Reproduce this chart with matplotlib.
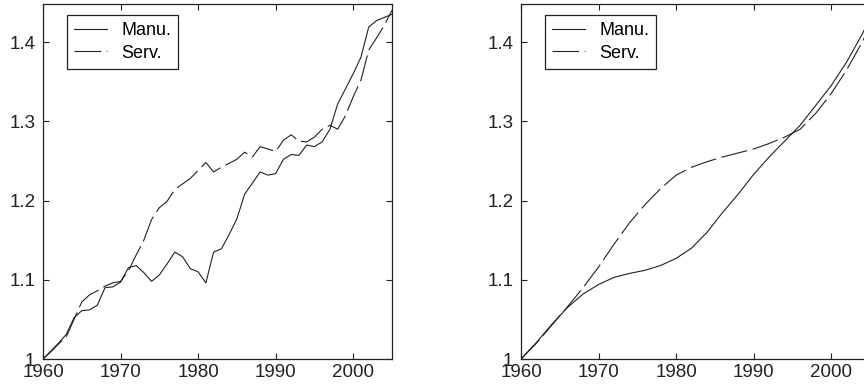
import numpy as np
import matplotlib
matplotlib.use("Agg")
import matplotlib.pyplot as plt
from matplotlib.ticker import FormatStrFormatter

# ---- data ----
years = np.arange(1960, 2006)

manu_raw = [1.000, 1.010, 1.020, 1.031, 1.052, 1.061, 1.062, 1.068, 1.090, 1.091,
            1.097, 1.115, 1.118, 1.109, 1.098, 1.106, 1.120, 1.135, 1.129, 1.114,
            1.110, 1.096, 1.135, 1.139, 1.157, 1.177, 1.208, 1.222, 1.236, 1.232,
            1.234, 1.252, 1.258, 1.257, 1.270, 1.268, 1.274, 1.290, 1.322, 1.341,
            1.360, 1.381, 1.419, 1.427, 1.431, 1.435]

serv_raw = [1.000, 1.009, 1.019, 1.028, 1.050, 1.072, 1.081, 1.086, 1.092, 1.096,
            1.098, 1.111, 1.131, 1.150, 1.176, 1.191, 1.199, 1.214, 1.221, 1.228,
            1.238, 1.248, 1.236, 1.242, 1.247, 1.252, 1.261, 1.255, 1.268, 1.265,
            1.262, 1.276, 1.283, 1.275, 1.274, 1.280, 1.290, 1.295, 1.290, 1.307,
            1.331, 1.352, 1.390, 1.405, 1.421, 1.440]

years_s = [1960, 1962, 1964, 1966, 1968, 1970, 1972, 1974, 1976, 1978, 1980, 1982,
           1984, 1986, 1988, 1990, 1992, 1994, 1996, 1998, 2000, 2002, 2004, 2005]
manu_trend = [1.000, 1.021, 1.044, 1.065, 1.082, 1.094, 1.103, 1.108, 1.112, 1.118,
              1.127, 1.140, 1.160, 1.185, 1.208, 1.233, 1.255, 1.275, 1.295, 1.320,
              1.345, 1.375, 1.410, 1.430]
serv_trend = [1.000, 1.020, 1.043, 1.066, 1.090, 1.116, 1.145, 1.172, 1.195, 1.215,
              1.232, 1.242, 1.249, 1.255, 1.260, 1.265, 1.272, 1.280, 1.290, 1.310,
              1.335, 1.365, 1.400, 1.420]

plt.rcParams['font.family'] = ['Liberation Sans', 'DejaVu Sans']
plt.rcParams['font.size'] = 13.5

fig = plt.figure(figsize=(8.64, 3.92), dpi=100)
W, H = 864.0, 392.0
ax1 = fig.add_axes([43/W, 33/H, 349/W, 355/H])
ax2 = fig.add_axes([521/W, 33/H, 349/W, 355/H])   # right edge runs just off the picture

dash = (0, (24, 5))
for ax, xs, m, s in [(ax1, years, manu_raw, serv_raw),
                     (ax2, years_s, manu_trend, serv_trend)]:
    ax.plot(xs, m, color='#222222', lw=0.8, label='Manu.')
    ax.plot(xs, s, color='#222222', lw=0.8, linestyle=dash, label='Serv.')
    ax.set_xlim(1960, 2005)
    ax.set_ylim(1.0, 1.448)
    ax.set_xticks([1960, 1970, 1980, 1990, 2000])
    ax.set_yticks([1.0, 1.1, 1.2, 1.3, 1.4])
    ax.yaxis.set_major_formatter(FormatStrFormatter('%g'))
    ax.tick_params(direction='in', length=4, width=0.8, top=True, right=True,
                   colors='#222222', labelcolor='#222222')
    ax.tick_params(axis='x', pad=3.5)
    ax.tick_params(axis='y', pad=5.5)
    for sp in ax.spines.values():
        sp.set_linewidth(0.9)
        sp.set_color('#222222')
    leg = ax.legend(loc='upper left', bbox_to_anchor=(0.069, 0.969), frameon=True,
                    fancybox=False, framealpha=1, edgecolor='#222222',
                    fontsize=13, handlelength=1.8, borderpad=0.4,
                    labelspacing=0.3, handletextpad=0.8, borderaxespad=0)
    leg.get_frame().set_linewidth(0.9)

fig.savefig('out.png', dpi=100)
